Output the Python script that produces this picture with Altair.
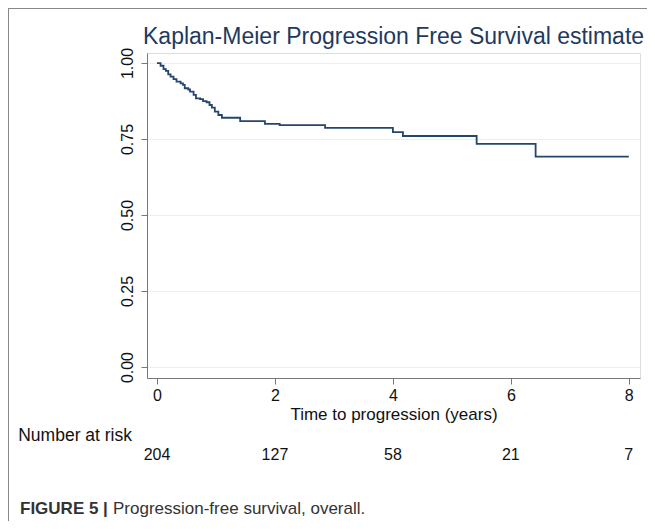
import altair as alt
import pandas as pd

# Kaplan-Meier step points (time in years, survival probability)
times = [0, 0.06, 0.11, 0.15, 0.19, 0.23, 0.28, 0.33, 0.40, 0.44,
         0.47, 0.53, 0.56, 0.62, 0.66, 0.73, 0.78, 0.84, 0.89, 0.93,
         0.98, 1.04, 1.10, 1.41, 1.83, 2.08, 2.85, 4.00, 4.17, 5.42,
         6.42, 8.0]
surv = [1.0, 0.991, 0.980, 0.974, 0.963, 0.955, 0.947, 0.939, 0.933, 0.928,
        0.917, 0.913, 0.906, 0.895, 0.884, 0.881, 0.875, 0.871, 0.862, 0.853,
        0.840, 0.829, 0.820, 0.809, 0.800, 0.796, 0.787, 0.773, 0.760, 0.734,
        0.692, 0.692]

risk_times = [0, 2, 4, 6, 8]
at_risk = [204, 127, 58, 21, 7]

x_ticks = [0, 2, 4, 6, 8]
y_ticks = [0, 0.25, 0.5, 0.75, 1.0]

title_text = "Kaplan-Meier Progression Free Survival estimate"
x_title = "Time to progression (years)"
risk_label = "Number at risk"
caption_bold = "FIGURE 5 |"
caption_rest = "Progression-free survival, overall."

FONT = "Liberation Sans"
W, H = 493, 325

km = pd.DataFrame({"t": times, "s": surv})
risk = pd.DataFrame({"t": risk_times, "n": at_risk})
one = pd.DataFrame({"k": [0]})

xscale = alt.Scale(domain=[-0.17, 8.19], nice=False, zero=False)
yscale = alt.Scale(domain=[-0.036, 1.033], nice=False, zero=False)

line = alt.Chart(km).mark_line(interpolate="step-after", color="#24466b", strokeWidth=1.8).encode(
    x=alt.X("t:Q", scale=xscale,
            axis=alt.Axis(values=x_ticks, title=x_title, grid=False, format="d",
                          labelFontSize=16, titleFontSize=17, titleFontWeight="normal",
                          labelPadding=3, titlePadding=3, tickSize=6,
                          domainColor="#777777", tickColor="#777777",
                          labelColor="#111111", titleColor="#111111",
                          labelFont=FONT, titleFont=FONT)),
    y=alt.Y("s:Q", scale=yscale,
            axis=alt.Axis(values=y_ticks, title=None, format=".2f", grid=True,
                          gridColor="#ebeff1", gridWidth=1,
                          labelAngle=-90, labelAlign="center", labelBaseline="bottom",
                          labelFontSize=16, labelPadding=6, tickSize=6,
                          domainColor="#777777", tickColor="#777777",
                          labelColor="#111111", labelFont=FONT)),
)

risk_text = alt.Chart(risk).mark_text(fontSize=16, font=FONT, color="#111111",
                                      baseline="alphabetic").encode(
    x=alt.X("t:Q", scale=xscale),
    y=alt.value(407),
    text="n:Q",
)

risk_lab = alt.Chart(one).mark_text(text=risk_label, fontSize=17.5, font=FONT, color="#111111",
                                    align="right", baseline="alphabetic").encode(
    x=alt.value(-15), y=alt.value(388),
)

title = alt.Chart(one).mark_text(text=title_text, fontSize=23, font=FONT, color="#1e3a5f",
                                 align="left", baseline="alphabetic").encode(
    x=alt.value(-4), y=alt.value(-9),
)

cap1 = alt.Chart(one).mark_text(text=caption_bold, fontSize=17, font=FONT, fontWeight="bold",
                                color="#333333", align="left", baseline="alphabetic").encode(
    x=alt.value(-127), y=alt.value(461),
)
cap2 = alt.Chart(one).mark_text(text=caption_rest, fontSize=17, font=FONT,
                                color="#333333", align="left", baseline="alphabetic").encode(
    x=alt.value(-34), y=alt.value(461),
)

frame = alt.Chart(one).mark_rect(fill=None, stroke="#888888", strokeWidth=2).encode(
    x=alt.value(-139), y=alt.value(-45), x2=alt.value(700), y2=alt.value(700),
)

chart = alt.layer(frame, line, risk_text, risk_lab, title, cap1, cap2).properties(
    width=W, height=H,
    padding={"left": 139, "top": 45, "right": 7, "bottom": 143},
    autosize=alt.AutoSizeParams(type="none"),
).configure_view(stroke=None).configure(background="white")

chart.save("out.html", embed_options={"renderer": "svg", "actions": False})
